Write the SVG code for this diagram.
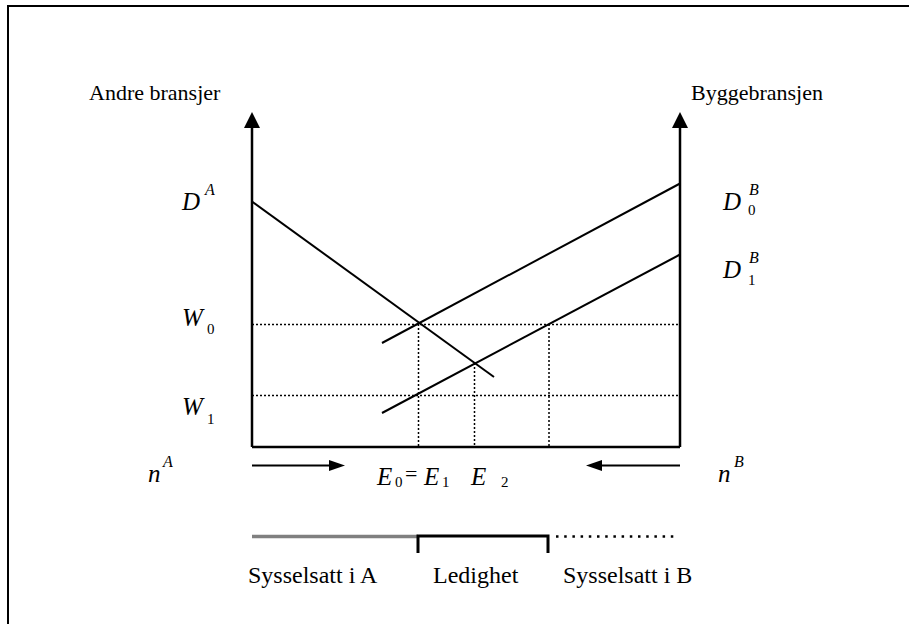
<svg xmlns="http://www.w3.org/2000/svg" width="909" height="624" viewBox="0 0 909 624">
<style>
.t{font-family:"Liberation Serif",Tinos,"Times New Roman","DejaVu Serif","Noto Serif",serif;font-size:22px;fill:#000}
.b{font-family:"Liberation Serif",Tinos,"Times New Roman","DejaVu Serif","Noto Serif",serif;font-size:24px;fill:#000}
.m{font-family:"Liberation Serif",Tinos,"Times New Roman","DejaVu Serif","Noto Serif",serif;font-size:25px;font-style:italic;fill:#000}
.s{font-family:"Liberation Serif",Tinos,"Times New Roman","DejaVu Serif","Noto Serif",serif;font-size:15px;fill:#000}
.si{font-family:"Liberation Serif",Tinos,"Times New Roman","DejaVu Serif","Noto Serif",serif;font-size:16px;font-style:italic;fill:#000}
.ax{stroke:#000;stroke-width:2.5;fill:none}
.ln{stroke:#000;stroke-width:2;fill:none}
.dt{stroke:#000;stroke-width:1.5;stroke-dasharray:2 2;fill:none}
</style>
<rect x="0" y="0" width="909" height="624" fill="#fff"/>
<path d="M8,630 V6 H915" stroke="#000" stroke-width="2" fill="none"/>
<g id="labels">
<text class="t" x="89" y="100">Andre bransjer</text>
<text class="t" x="691" y="100">Byggebransjen</text>
</g>
<g id="axes">
<path class="ax" d="M252,447 V125 M680,447 V125 M252,447 H680"/>
<polygon points="252,112 244,128 260,128" fill="#000"/>
<polygon points="680,112 672,128 688,128" fill="#000"/>
</g>
<g id="connectors">
<path class="dt" d="M252,324.5 H679 M252,395.5 H679 M418.5,324 V446 M474.5,363 V446 M549,324 V446"/>
<path class="ln" d="M252,201.5 L494,377"/>
<path class="ln" d="M382,343 L680,183.5"/>
<path class="ln" d="M382,413 L680,254.5"/>
<path class="ln" d="M252,465.5 H332"/>
<polygon points="345,465.5 329,460 329,471" fill="#000"/>
<path class="ln" d="M600,465.5 H680"/>
<polygon points="586,465.5 602,460 602,471" fill="#000"/>
</g>
<g id="DA"><text class="m" x="182" y="210">D</text><text class="si" x="205" y="195">A</text></g>
<g id="W0"><text class="m" x="182" y="326">W</text><text class="s" x="207" y="334">0</text></g>
<g id="W1"><text class="m" x="182" y="415">W</text><text class="s" x="207" y="424">1</text></g>
<g id="D0B"><text class="m" x="723" y="210">D</text><text class="si" x="749" y="195">B</text><text class="s" x="748" y="215">0</text></g>
<g id="D1B"><text class="m" x="723" y="278">D</text><text class="si" x="749" y="263">B</text><text class="s" x="748" y="285">1</text></g>
<g id="nA"><text class="m" x="148" y="482">n</text><text class="si" x="163" y="467">A</text></g>
<g id="nB"><text class="m" x="718" y="482">n</text><text class="si" x="734" y="467">B</text></g>
<g id="E"><text class="m" x="377" y="485">E</text><text class="s" x="395" y="487">0</text><text class="t" x="405" y="481" font-size="20">=</text><text class="m" x="424" y="485">E</text><text class="s" x="442" y="487">1</text><text class="m" x="471" y="485">E</text><text class="s" x="501" y="487">2</text></g>
<g id="bar">
<path d="M252,536.5 H418" stroke="#808080" stroke-width="3.5" fill="none"/>
<path d="M418,553 V536 H548 V553" stroke="#000" stroke-width="3" fill="none"/>
<path d="M556,536.5 H679" stroke="#000" stroke-width="2.5" stroke-dasharray="2.5 5.7" fill="none"/>
</g>
<g id="barlabels">
<text class="b" x="248" y="583">Sysselsatt i A</text>
<text class="b" x="433" y="583">Ledighet</text>
<text class="b" x="563" y="583">Sysselsatt i B</text>
</g>
</svg>
